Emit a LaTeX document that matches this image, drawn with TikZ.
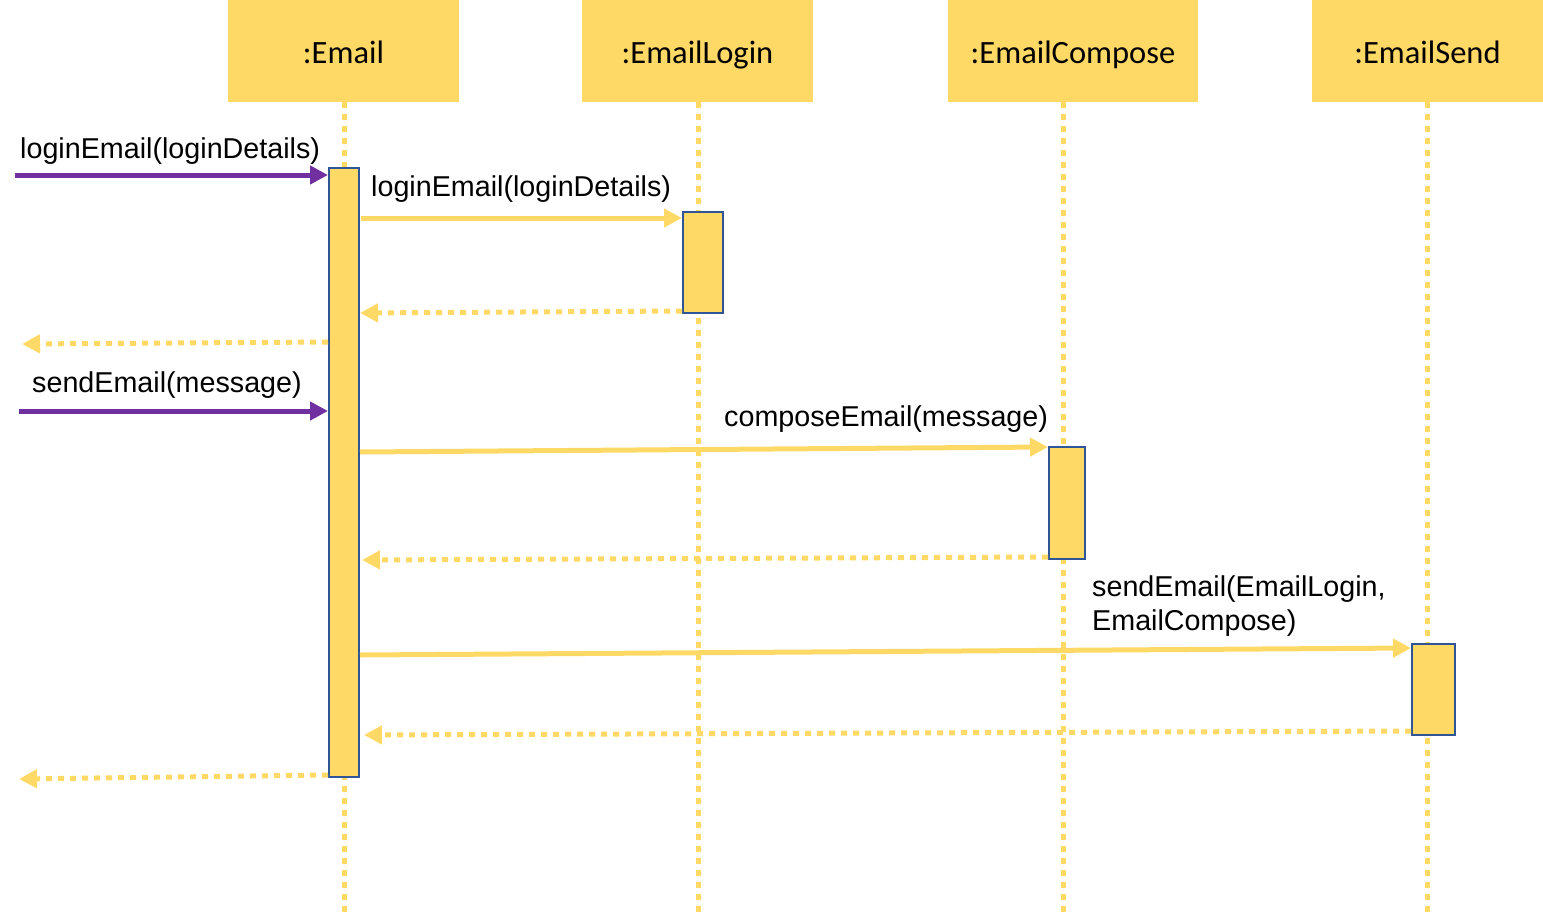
\documentclass[tikz,border=0pt]{standalone}
\usepackage{fontspec}
\setmainfont{Liberation Sans}
\newfontfamily\hdrfont{Carlito}
\usetikzlibrary{arrows.meta}
\definecolor{ylw}{HTML}{FFD966}
\definecolor{prp}{HTML}{7030A0}
\definecolor{bdr}{HTML}{2F5597}
\begin{document}
\begin{tikzpicture}[x=1pt,y=-1pt,
  hdr/.style={fill=ylw,draw=none,minimum height=102pt,inner sep=0pt,text height=30pt,text depth=6pt,font=\hdrfont\fontsize{32.5}{38}\selectfont},
  lifeline/.style={draw=ylw,line width=5pt,dash pattern=on 6pt off 6pt},
  actbox/.style={fill=ylw,draw=bdr,line width=2pt,inner sep=0pt},
  lbl/.style={inner sep=0pt,font=\fontsize{28.7}{34}\selectfont},
  callmsg/.style={draw=ylw,line width=5pt,-{Triangle[length=18pt,width=18pt]}},
  extcall/.style={draw=prp,line width=5pt,-{Triangle[length=18pt,width=18pt]}},
  retmsg/.style={draw=ylw,line width=5pt,dash pattern=on 6pt off 6pt,-{Triangle[length=18pt,width=18pt]}}]
\useasboundingbox (0,0) rectangle (1543,916);
% headers
\node[hdr,minimum width=231pt] (hEmail) at (343.5,51) {:Email};
\node[hdr,minimum width=231pt] (hLogin) at (697.5,51) {:EmailLogin};
\node[hdr,minimum width=250pt] (hCompose) at (1073,51) {:EmailCompose};
\node[hdr,minimum width=231pt] (hSend) at (1427.5,51) {:EmailSend};
% lifeline ends
\coordinate (eEmail) at (344,916);
\coordinate (eLogin) at (698,916);
\coordinate (eCompose) at (1063,916);
\coordinate (eSend) at (1427,916);
\draw[lifeline] (hEmail.south -| eEmail) -- (eEmail);
\draw[lifeline] (hLogin.south -| eLogin) -- (eLogin);
\draw[lifeline] (hCompose.south -| eCompose) -- (eCompose);
\draw[lifeline] (hSend.south -| eSend) -- (eSend);
% activation boxes
\node[actbox,minimum width=30pt,minimum height=609pt] (aEmail) at (344,472.5) {};
\node[actbox,minimum width=40pt,minimum height=101pt] (aLogin) at (703,262.5) {};
\node[actbox,minimum width=36pt,minimum height=112pt] (aCompose) at (1067,503) {};
\node[actbox,minimum width=43pt,minimum height=91pt] (aSend) at (1433.5,689.5) {};
% free ends
\coordinate (in1) at (15,175);
\coordinate (out1) at (22,344);
\coordinate (in2) at (19,411);
\coordinate (out2) at (19,779);
% messages
\draw[extcall] (in1) -- (in1 -| aEmail.west);
\node[lbl,anchor=base west] (l1) at (20,158) {loginEmail(loginDetails)};
\draw[callmsg] (361,218) -- (aLogin.west |- 0,218);
\node[lbl,anchor=base west] (l2) at (371,196) {loginEmail(loginDetails)};
\draw[retmsg] (aLogin.west |- 0,311) -- (360,313);
\draw[retmsg] (aEmail.west |- 0,342) -- (out1);
\draw[extcall] (in2) -- (in2 -| aEmail.west);
\node[lbl,anchor=base west] (l3) at (32,392) {sendEmail(message)};
\draw[callmsg] (360,452) -- (aCompose.west |- 0,447);
\node[lbl,anchor=base west] (l4) at (724,426) {composeEmail(message)};
\draw[retmsg] (aCompose.west |- 0,557) -- (362,560);
\draw[callmsg] (360,655) -- (aSend.west |- 0,648);
\node[lbl,anchor=base west,align=left] (l5) at (1092,630) {sendEmail(EmailLogin,\\EmailCompose)};
\draw[retmsg] (aSend.west |- 0,731) -- (364,735);
\draw[retmsg] (aEmail.west |- 0,775) -- (out2);
\end{tikzpicture}
\end{document}
